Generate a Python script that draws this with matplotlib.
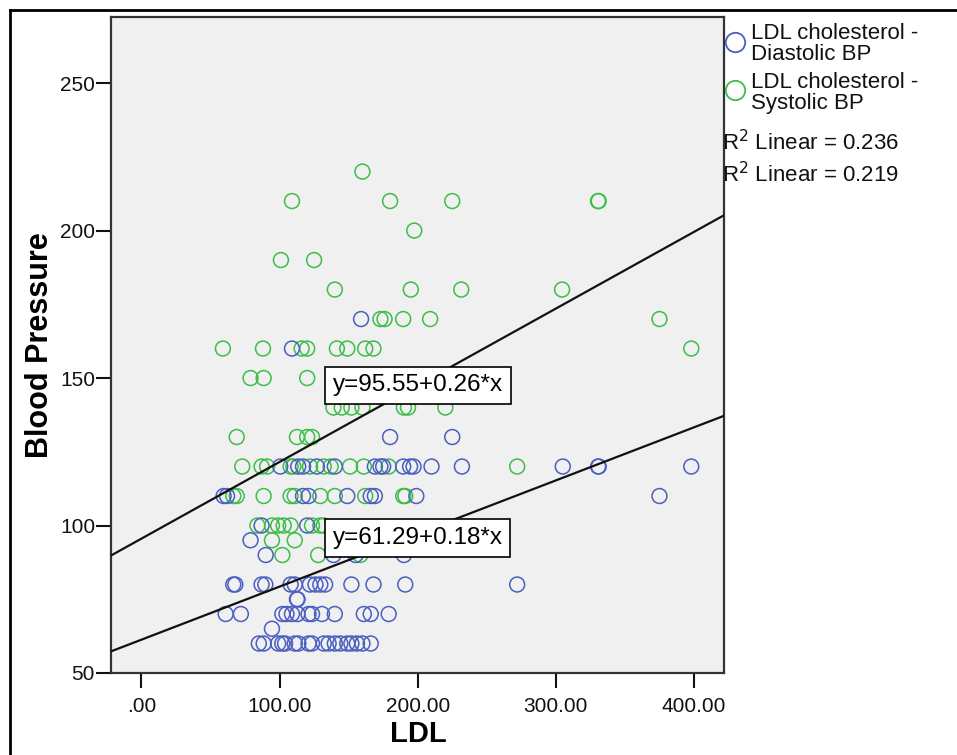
import matplotlib
matplotlib.use("Agg")
import matplotlib.pyplot as plt
from matplotlib.lines import Line2D

plt.rcParams['font.family'] = ['Liberation Sans', 'DejaVu Sans']

# LDL vs diastolic BP (blue)
dia_ldl = [159, 109, 180, 225,
           100.5, 113.5, 117, 127, 140, 169, 173, 175, 189.5, 194.5, 197, 210, 232, 305, 330.6, 331, 398,
           59.5, 62, 117, 121, 149, 166, 169, 199, 375,
           87, 120,
           79,
           90, 139, 155, 190,
           66.5, 68, 87, 89.7, 108, 111, 122, 126, 129.5, 133, 152, 168, 191, 272,
           112.6, 113,
           61, 72, 102, 105, 109, 113, 121, 123.5, 130.7, 140, 161, 166, 179,
           94.5,
           85, 88.5, 99, 102, 104, 111, 113.6, 121, 123.5, 132, 135.5, 140, 144, 149, 152, 156, 160, 166]
dia_bp = [170, 160, 130, 130,
          120, 120, 120, 120, 120, 120, 120, 120, 120, 120, 120, 120, 120, 120, 120, 120, 120,
          110, 110, 110, 110, 110, 110, 110, 110, 110,
          100, 100,
          95,
          90, 90, 90, 90,
          80, 80, 80, 80, 80, 80, 80, 80, 80, 80, 80, 80, 80, 80,
          75, 75,
          70, 70, 70, 70, 70, 70, 70, 70, 70, 70, 70, 70, 70,
          65,
          60, 60, 60, 60, 60, 60, 60, 60, 60, 60, 60, 60, 60, 60, 60, 60, 60, 60]

# LDL vs systolic BP (green)
sys_ldl = [160,
           109, 180, 225, 330.5, 331,
           197.5,
           101, 125,
           140, 195, 231.5, 304.5,
           173, 176, 189.5, 209, 375,
           59, 88, 116, 120, 141.5, 149, 162, 168, 398,
           79, 88.5, 120,
           139, 145, 152, 160, 190, 193, 220,
           69, 112.6, 120, 123.5,
           73, 87, 91, 108, 110, 122, 132, 137, 151, 161, 179, 272,
           66.5, 69, 88.5, 108, 111, 129.5, 140, 162, 189.5, 191,
           84, 94.5, 99, 103, 108, 123.5, 129.5, 132,
           94.5, 111,
           102, 128, 158.5]
sys_bp = [220,
          210, 210, 210, 210, 210,
          200,
          190, 190,
          180, 180, 180, 180,
          170, 170, 170, 170, 170,
          160, 160, 160, 160, 160, 160, 160, 160, 160,
          150, 150, 150,
          140, 140, 140, 140, 140, 140, 140,
          130, 130, 130, 130,
          120, 120, 120, 120, 120, 120, 120, 120, 120, 120, 120, 120,
          110, 110, 110, 110, 110, 110, 110, 110, 110, 110,
          100, 100, 100, 100, 100, 100, 100, 100,
          95, 95,
          90, 90, 90]

# fit lines (from chart labels)
sys_fit = (95.55, 0.26)
dia_fit = (61.29, 0.18)
r2_values = ["0.236", "0.219"]

x_ticks = [0, 100, 200, 300, 400]
x_ticklabels = [".00", "100.00", "200.00", "300.00", "400.00"]
y_ticks = [50, 100, 150, 200, 250]

blue = '#4a5fc0'
green = '#3dbd4a'

W, H = 957, 755
fig = plt.figure(figsize=(W / 100, H / 100), dpi=100)
ax = fig.add_axes([111 / W, 1 - 673 / H, 613 / W, 656 / H])
ax.set_facecolor('#f0f0f0')

xlim = (-22, 421.7)
ax.set_xlim(*xlim)
ax.set_ylim(50, 272.4)

ax.scatter(sys_ldl, sys_bp, s=115, facecolors='none', edgecolors=green, linewidths=1.1, zorder=3)
ax.scatter(dia_ldl, dia_bp, s=115, facecolors='none', edgecolors=blue, linewidths=1.1, zorder=3)

for b0, b1 in (sys_fit, dia_fit):
    ax.plot(xlim, [b0 + b1 * xlim[0], b0 + b1 * xlim[1]], color='#111111', lw=1.6, zorder=4)

box = dict(boxstyle='square,pad=0.32', facecolor='white', edgecolor='black', lw=1.2)
ax.text(200, 147.5, f"y={sys_fit[0]:.2f}+{sys_fit[1]:.2f}*x", fontsize=17.5,
        ha='center', va='center', bbox=box, zorder=5)
ax.text(200, 95.8, f"y={dia_fit[0]:.2f}+{dia_fit[1]:.2f}*x", fontsize=17.5,
        ha='center', va='center', bbox=box, zorder=5)

ax.set_xticks(x_ticks)
ax.set_xticklabels(x_ticklabels)
ax.set_yticks(y_ticks)
ax.tick_params(axis='both', direction='out', length=10.5, width=1.5, labelsize=15, colors='#111111')
ax.tick_params(axis='x', pad=7)
ax.tick_params(axis='y', pad=1)
for s in ax.spines.values():
    s.set_color('#333333')
    s.set_linewidth(1.6)

fig.text(40 / W, 1 - 345 / H, "Blood Pressure", rotation=90, fontsize=22, fontweight='bold',
         ha='center', va='center')
fig.text(418 / W, 1 - 734 / H, "LDL", fontsize=21, fontweight='bold', ha='center', va='center')

# legend, drawn by hand outside the plot
fig.add_artist(Line2D([735 / W], [1 - 42 / H], marker='o', ms=14, mfc='none', mec=blue, mew=1.3,
                      transform=fig.transFigure))
fig.add_artist(Line2D([735 / W], [1 - 90 / H], marker='o', ms=14, mfc='none', mec=green, mew=1.3,
                      transform=fig.transFigure))
fig.text(751 / W, 1 - 44 / H, "LDL cholesterol -\nDiastolic BP", fontsize=16, linespacing=0.95,
         ha='left', va='center', color='#111111')
fig.text(751 / W, 1 - 93 / H, "LDL cholesterol -\nSystolic BP", fontsize=16, linespacing=0.95,
         ha='left', va='center', color='#111111')
for val, ypx in zip(r2_values, (143, 175)):
    fig.text(722 / W, 1 - ypx / H, "R$^2$ Linear = " + val, fontsize=16, ha='left', va='center',
             color='#111111')

# outer frame
fig.add_artist(Line2D([10 / W, 1], [1 - 10 / H, 1 - 10 / H], color='black', lw=2, transform=fig.transFigure))
fig.add_artist(Line2D([10 / W, 10 / W], [0, 1 - 10 / H], color='black', lw=2, transform=fig.transFigure))

fig.savefig("out.png", dpi=100)
